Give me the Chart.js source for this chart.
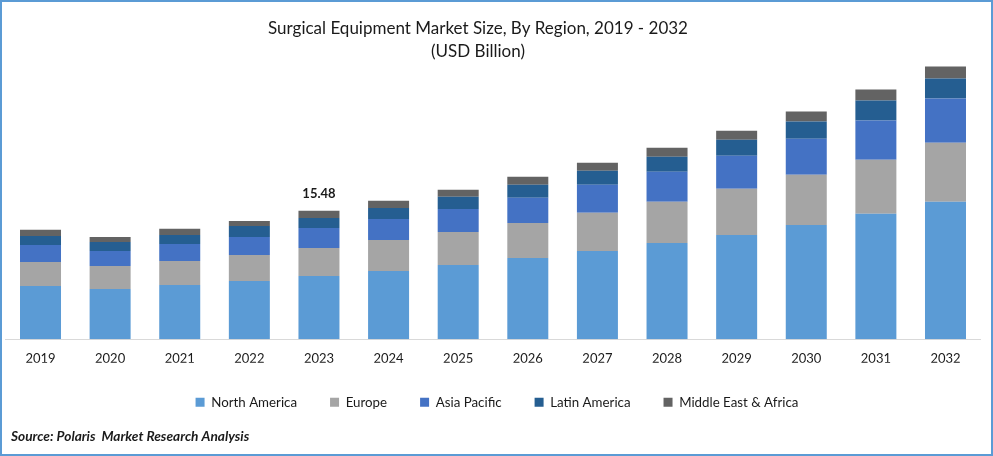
<!DOCTYPE html>
<html>
<head>
<meta charset="utf-8">
<title>Surgical Equipment Market Size</title>
<script src="https://cdn.jsdelivr.net/npm/chart.js@4"></script>
<style>
    body { margin: 0; background: #fff; }
    canvas { display: block; }
    #frame { position: absolute; left: 0; top: 0; right: 0; bottom: 0; border: 2px solid #5b9bd5; pointer-events: none; }
</style>
</head>
<body>
<canvas id="marketChart" width="993" height="456"></canvas>
<div id="frame"></div>
<script>
const years = ['2019', '2020', '2021', '2022', '2023', '2024', '2025', '2026', '2027', '2028', '2029', '2030', '2031', '2032'];
const northAmerica = [6.41, 6.05, 6.53, 7.01, 7.62, 8.22, 8.95, 9.80, 10.64, 11.61, 12.58, 13.79, 15.12, 16.57];
const europe = [2.90, 2.78, 2.90, 3.14, 3.38, 3.75, 3.99, 4.23, 4.60, 4.96, 5.56, 6.05, 6.53, 7.14];
const asiaPacific = [2.06, 1.81, 2.06, 2.18, 2.42, 2.54, 2.78, 3.02, 3.39, 3.63, 3.99, 4.35, 4.72, 5.32];
const latinAmerica = [1.09, 1.09, 1.09, 1.33, 1.21, 1.33, 1.45, 1.57, 1.69, 1.81, 1.93, 2.06, 2.42, 2.42];
const middleEast = [0.73, 0.60, 0.73, 0.60, 0.85, 0.85, 0.85, 0.97, 0.97, 1.09, 1.09, 1.21, 1.33, 1.45];
const titleLines = ['Surgical Equipment Market Size, By Region, 2019 - 2032', '(USD Billion)'];
const sourceText = 'Source: Polaris  Market Research Analysis';
const labelledYear = '2023';
const labelledValue = '15.48';

const fontName = 'Lato, "Open Sans", sans-serif';

// title, source line and the one value label
const textPlugin = {
    id: 'textPlugin',
    afterLayout(chart) {
        // the legend sits a little right of the canvas centre in the reference
        chart.legend.left += 4;
        chart.legend.right += 4;
    },
    afterDraw(chart) {
        const ctx = chart.ctx;
        ctx.save();
        ctx.textBaseline = 'middle';
        ctx.textAlign = 'center';
        ctx.fillStyle = '#1a1a1a';
        ctx.font = '17px ' + fontName;
        ctx.fillText(titleLines[0], 478, 29);
        ctx.fillText(titleLines[1], 478, 52);

        const bar = chart.getDatasetMeta(4).data[years.indexOf(labelledYear)];
        ctx.font = 'bold 13px ' + fontName;
        ctx.fillText(labelledValue, bar.x, bar.y - 17);

        ctx.textAlign = 'left';
        ctx.font = 'italic bold 13.7px ' + fontName;
        ctx.fillText(sourceText, 11, 437);
        ctx.restore();
    }
};

new Chart(document.getElementById('marketChart'), {
    type: 'bar',
    plugins: [textPlugin],
    data: {
        labels: years,
        datasets: [
            { label: 'North America', data: northAmerica, backgroundColor: '#5b9bd5' },
            { label: 'Europe', data: europe, backgroundColor: '#a5a5a5' },
            { label: 'Asia Pacific', data: asiaPacific, backgroundColor: '#4472c4' },
            { label: 'Latin America', data: latinAmerica, backgroundColor: '#255e91' },
            { label: 'Middle East & Africa', data: middleEast, backgroundColor: '#636363' }
        ]
    },
    options: {
        responsive: false,
        animation: false,
        datasets: { bar: { categoryPercentage: 1, barPercentage: 0.589 } },
        layout: { padding: { top: 60, left: 5.7, right: 12.7, bottom: 37 } },
        plugins: {
            title: { display: false },
            tooltip: { enabled: false },
            legend: {
                position: 'bottom',
                labels: {
                    boxWidth: 9,
                    boxHeight: 9,
                    padding: 33,
                    color: '#1a1a1a',
                    font: { family: fontName, size: 13.3 }
                }
            }
        },
        scales: {
            x: {
                stacked: true,
                grid: { display: false },
                border: { color: '#d9d9d9', width: 1 },
                ticks: { color: '#1a1a1a', padding: 3.5, font: { family: fontName, size: 13 } },
                afterFit(scale) { scale.height = 23.5; }
            },
            y: { stacked: true, display: false, min: 0, max: 33.68 }
        }
    }
});
</script>
</body>
</html>
